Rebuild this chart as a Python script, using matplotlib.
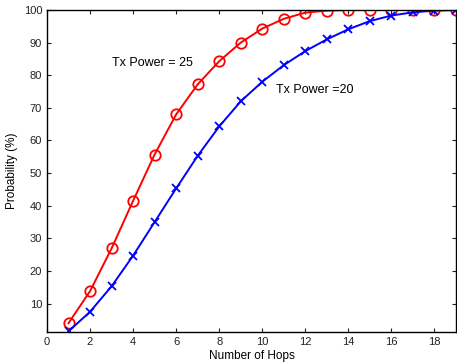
import matplotlib
matplotlib.use("Agg")
import matplotlib.pyplot as plt

plt.rcParams["font.family"] = ["Liberation Sans", "DejaVu Sans"]

# data
hops = list(range(1, 20))
tx25 = [4.0, 13.8, 26.9, 41.5, 55.7, 68.0, 77.2, 84.3, 90.0, 94.3,
        97.3, 99.2, 99.8, 100, 100, 100, 100, 100, 100]
tx20 = [1.5, 7.5, 15.3, 24.7, 35.0, 45.3, 55.3, 64.3, 72.0, 78.0,
        83.1, 87.4, 91.0, 94.1, 96.6, 98.3, 99.3, 99.8, 100]
xticks = list(range(0, 20, 2))
yticks = list(range(10, 101, 10))

fig = plt.figure(figsize=(4.57, 3.64), dpi=100)
ax = fig.add_axes([0.1028, 0.088, 0.895, 0.8845])

ax.plot(hops, tx25, color="red", lw=1.4, marker="o", ms=7.5,
        mfc="none", mec="red", mew=1.3)
ax.plot(hops, tx20, color="blue", lw=1.4, marker="x", ms=5.5,
        mec="blue", mew=1.3)

ax.text(3.0, 83.7, "Tx Power = 25", fontsize=9, va="center", ha="left")
ax.text(10.65, 75.5, "Tx Power =20", fontsize=9, va="center", ha="left")

ax.set_xlim(0, 19)
ax.set_ylim(1.3, 100)
ax.set_xticks(xticks)
ax.set_yticks(yticks)
ax.tick_params(direction="in", top=True, right=True, labelsize=8,
               length=3, width=0.8, colors="#222222")
ax.set_xlabel("Number of Hops", fontsize=8.5, labelpad=2)
ax.set_ylabel("Probability (%)", fontsize=8.5, labelpad=4)
for s in ax.spines.values():
    s.set_linewidth(1.0)

fig.savefig("out.png", dpi=100)
